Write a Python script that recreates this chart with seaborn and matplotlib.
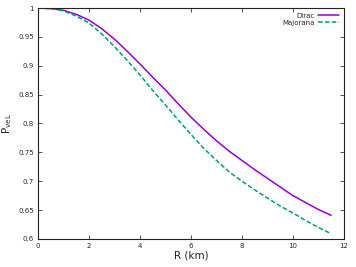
import numpy as np
import pandas as pd
import matplotlib
matplotlib.use('Agg')
import matplotlib.pyplot as plt
import seaborn as sns

# dados (R em km)
raio = [0, 0.5, 1, 1.5, 2, 2.5, 3, 3.5, 4, 4.5, 5, 5.5, 6, 6.5, 7, 7.5,
        8, 8.5, 9, 9.5, 10, 10.5, 11, 11.5]
p_dirac = [1.000, 0.999, 0.996, 0.989, 0.979, 0.964, 0.946, 0.925, 0.903,
           0.880, 0.858, 0.834, 0.811, 0.790, 0.770, 0.752, 0.736, 0.720,
           0.705, 0.690, 0.675, 0.663, 0.651, 0.641]
p_majorana = [1.000, 0.999, 0.995, 0.986, 0.974, 0.955, 0.933, 0.909, 0.884,
              0.857, 0.832, 0.806, 0.781, 0.757, 0.736, 0.716, 0.700, 0.685,
              0.671, 0.657, 0.645, 0.632, 0.620, 0.609]

xticks = [0, 2, 4, 6, 8, 10, 12]
yticks = [0.6, 0.65, 0.7, 0.75, 0.8, 0.85, 0.9, 0.95, 1]
ytick_labels = ['0.6', '0.65', '0.7', '0.75', '0.8', '0.85', '0.9', '0.95', '1']

df = pd.DataFrame({
    'R': raio * 2,
    'P': p_dirac + p_majorana,
    'tipo': ['Dirac'] * len(raio) + ['Majorana'] * len(raio),
})

sns.set_style('ticks')
plt.rcParams['font.family'] = ['DejaVu Sans']

fig, ax = plt.subplots(figsize=(3.56, 2.67), dpi=100)
fig.subplots_adjust(left=0.107, right=0.966, top=0.97, bottom=0.105)

sns.lineplot(data=df, x='R', y='P', hue='tipo', style='tipo',
             palette={'Dirac': '#9400d3', 'Majorana': '#009e73'},
             dashes={'Dirac': '', 'Majorana': (3, 1.5)},
             linewidth=1.1, ax=ax)

ax.set_xlim(0, 12)
ax.set_ylim(0.6, 1)
ax.set_xticks(xticks)
ax.set_yticks(yticks)
ax.set_yticklabels(ytick_labels)
ax.tick_params(direction='in', length=3, width=0.6, labelsize=5, pad=3,
               top=True, right=True, color='#333333')
for s in ax.spines.values():
    s.set_linewidth(0.8)
    s.set_color('#222222')

ax.set_xlabel('R (km)', fontsize=7.5, labelpad=1)
ax.set_ylabel(r'P$_{\mathregular{veL}}$', fontsize=7.5, labelpad=3)

leg = ax.legend(loc='upper right', fontsize=5, frameon=False, markerfirst=False,
                handlelength=3, handletextpad=0.5, labelspacing=0.15,
                borderaxespad=0.3)

fig.savefig('out.png', dpi=100)
